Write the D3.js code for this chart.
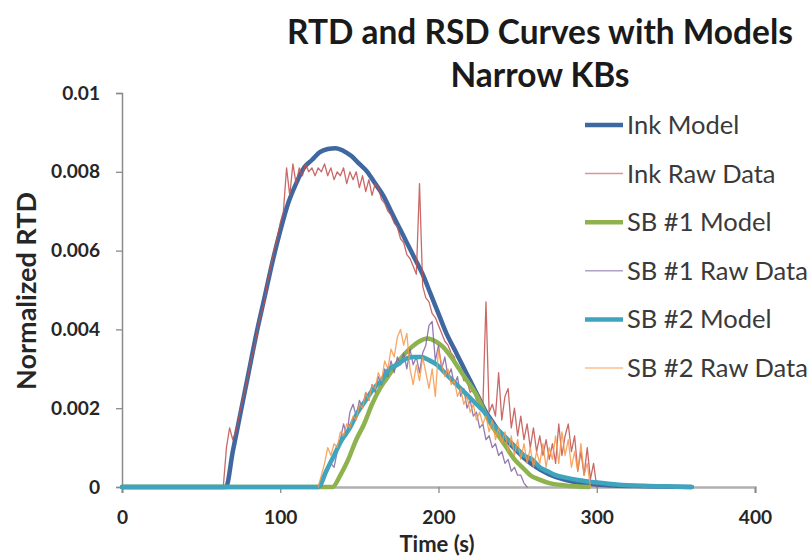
<!DOCTYPE html>
<html>
<head>
<meta charset="utf-8">
<script src="https://cdn.jsdelivr.net/npm/d3@7"></script>
<style>
  body { margin: 0; background: #fff; }
  svg { display: block; }
  text { font-family: Lato, "Open Sans", sans-serif; }
</style>
</head>
<body>
<svg id="chart" width="812" height="556"></svg>
<script>
// ---- chart text ----
const titleLines = ["RTD and RSD Curves with Models", "Narrow KBs"];
const xTitle = "Time (s)";
const yTitle = "Normalized RTD";
const xTicks = [0, 100, 200, 300, 400];
const yTicks = [0, 0.002, 0.004, 0.006, 0.008, 0.01];
const seriesNames = ["Ink Model", "Ink Raw Data", "SB #1 Model", "SB #1 Raw Data", "SB #2 Model", "SB #2 Raw Data"];

// ---- fitted model curves: [time (s), normalized RTD] ----
const inkModel = [
  [0, 0], [65.7, 0], [70, 0.0009], [75, 0.0019], [80, 0.0029], [85, 0.0039], [90, 0.0048],
  [95, 0.0057], [100, 0.0065], [105, 0.0072], [110, 0.0077], [115, 0.0081], [120, 0.0083],
  [125, 0.0085], [130, 0.00858], [135, 0.0086], [140, 0.00853], [145, 0.0084], [150, 0.0082],
  [155, 0.0080], [160, 0.0077], [165, 0.0074], [170, 0.0070], [175, 0.0066], [180, 0.0062],
  [185, 0.0058], [190, 0.0054], [195, 0.0049], [200, 0.0044], [205, 0.0039], [210, 0.0035],
  [215, 0.0031], [220, 0.0027], [225, 0.0023], [230, 0.0019], [235, 0.0016], [240, 0.0013],
  [245, 0.0011], [250, 0.0009], [255, 0.0007], [260, 0.00055], [270, 0.00032], [280, 0.00018],
  [290, 0.0001], [310, 0.00004], [330, 0.00002], [360, 0]
];
const sb1Model = [
  [0, 0], [133, 0], [138, 0.0003], [143, 0.0007], [148, 0.0012], [153, 0.0016], [158, 0.0021],
  [163, 0.0025], [168, 0.0028], [173, 0.0031], [178, 0.00335], [183, 0.00355], [188, 0.0037],
  [193, 0.00377], [198, 0.0037], [203, 0.00355], [208, 0.0033], [213, 0.0030], [218, 0.0027],
  [223, 0.0024], [228, 0.0020], [233, 0.0016], [238, 0.0013], [243, 0.0010], [248, 0.0007],
  [253, 0.0005], [258, 0.0003], [263, 0.0002], [270, 0.0001], [280, 0.00004], [295, 0]
];
const sb2Model = [
  [0, 0], [124, 0], [129, 0.0004], [134, 0.0008], [139, 0.0012], [144, 0.0015], [149, 0.0019],
  [154, 0.0022], [159, 0.0025], [164, 0.0027], [169, 0.0030], [174, 0.0031], [179, 0.00325],
  [184, 0.0033], [189, 0.0033], [194, 0.00322], [199, 0.0031], [204, 0.0029], [209, 0.0027],
  [214, 0.0025], [219, 0.0023], [224, 0.0021], [229, 0.0019], [234, 0.0016], [239, 0.0014],
  [244, 0.0012], [249, 0.0010], [254, 0.0008], [259, 0.0007], [264, 0.0005], [269, 0.0004],
  [274, 0.0003], [279, 0.00025], [289, 0.00017], [299, 0.00012], [314, 0.00006],
  [330, 0.00003], [360, 0]
];

// ---- raw measurements, sampled every rawStep seconds from each start time ----
const rawStep = 2;
const inkRawStart = 64;
const inkRaw = [
  0.0000, 0.0010, 0.0015, 0.0012, 0.0014, 0.0018, 0.0022, 0.0025, 0.0029, 0.0033,
  0.0036, 0.0041, 0.0044, 0.0047, 0.0052, 0.0056, 0.0060, 0.0063, 0.0067, 0.0070,
  0.0081, 0.0074, 0.0082, 0.0077, 0.0081, 0.0079, 0.0082, 0.0080, 0.0081, 0.0079,
  0.0081, 0.0080, 0.0082, 0.0079, 0.0081, 0.0078, 0.0080, 0.0079, 0.0081, 0.0077,
  0.0080, 0.0078, 0.0080, 0.0076, 0.0079, 0.0075, 0.0078, 0.0074, 0.0077, 0.0076,
  0.0073, 0.0072, 0.0070, 0.0069, 0.0067, 0.0066, 0.0063, 0.0062, 0.0059, 0.0058,
  0.0056, 0.0054, 0.0077, 0.0051, 0.0048, 0.0047, 0.0044, 0.0043, 0.0041, 0.0039,
  0.0037, 0.0036, 0.0034, 0.0033, 0.0030, 0.0030, 0.0027, 0.0027, 0.0024, 0.0025,
  0.0022, 0.0023, 0.0020, 0.0047, 0.0019, 0.0021, 0.0018, 0.0029, 0.0017, 0.0023,
  0.0025, 0.0015, 0.0020, 0.0013, 0.0018, 0.0012, 0.0016, 0.0010, 0.0015, 0.0009,
  0.0013, 0.0008, 0.0012, 0.0007, 0.0011, 0.0006, 0.0016, 0.0008, 0.0013, 0.0016,
  0.0009, 0.0013, 0.0004, 0.0009, 0.0003, 0.0010, 0.0002, 0.0006, 0.0000
];
const sb1RawStart = 126;
const sb1Raw = [
  0.0000, 0.0002, 0.0004, 0.0006, 0.0005, 0.0009, 0.0012, 0.0016, 0.0013, 0.0019,
  0.0021, 0.0018, 0.0022, 0.0020, 0.0024, 0.0022, 0.0026, 0.0024, 0.0028, 0.0026,
  0.0030, 0.0028, 0.0032, 0.0029, 0.0033, 0.0031, 0.0034, 0.0030, 0.0035, 0.0031,
  0.0033, 0.0029, 0.0034, 0.0036, 0.0041, 0.0042, 0.0032, 0.0036, 0.0030, 0.0033,
  0.0028, 0.0030, 0.0026, 0.0028, 0.0023, 0.0025, 0.0020, 0.0022, 0.0018, 0.0019,
  0.0015, 0.0016, 0.0012, 0.0013, 0.0010, 0.0011, 0.0008, 0.0009, 0.0006, 0.0007,
  0.0004, 0.0005, 0.0003, 0.0003, 0.0001, 0.0000
];
const sb2RawStart = 124;
const sb2Raw = [
  0.0000, 0.0003, 0.0006, 0.0010, 0.0008, 0.0011, 0.0010, 0.0014, 0.0013, 0.0016,
  0.0015, 0.0018, 0.0017, 0.0021, 0.0020, 0.0024, 0.0022, 0.0026, 0.0025, 0.0029,
  0.0027, 0.0032, 0.0030, 0.0035, 0.0033, 0.0038, 0.0040, 0.0036, 0.0039, 0.0030,
  0.0026, 0.0031, 0.0027, 0.0033, 0.0029, 0.0025, 0.0030, 0.0023, 0.0035, 0.0031,
  0.0028, 0.0030, 0.0026, 0.0027, 0.0023, 0.0025, 0.0021, 0.0023, 0.0019, 0.0021,
  0.0017, 0.0019, 0.0016, 0.0018, 0.0014, 0.0017, 0.0012, 0.0015, 0.0011, 0.0014,
  0.0009, 0.0013, 0.0008, 0.0012, 0.0007, 0.0011, 0.0006, 0.0010, 0.0005, 0.0009,
  0.0006, 0.0011, 0.0005, 0.0010, 0.0007, 0.0013, 0.0006, 0.0014, 0.0008, 0.0012,
  0.0005, 0.0009, 0.0004, 0.0011, 0.0003, 0.0006, 0.0000
];

// ---- series styling ----
const colors = ["#3F68A0", "#C0504D", "#8DB24E", "#8064A2", "#3FA4BD", "#F79646"];
const widths = [4.5, 1.3, 4.5, 1.3, 4.5, 1.3];

const toPoints = (start, vals) => vals.map((v, i) => [start + i * rawStep, v]);
const seriesData = [
  inkModel,
  toPoints(inkRawStart, inkRaw),
  sb1Model,
  toPoints(sb1RawStart, sb1Raw),
  sb2Model,
  toPoints(sb2RawStart, sb2Raw)
];
const isModel = [true, false, true, false, true, false];

const svg = d3.select("#chart");
svg.append("rect").attr("width", 812).attr("height", 556).attr("fill", "#fff");

const x = d3.scaleLinear().domain([0, 400]).range([122, 755]);
const y = d3.scaleLinear().domain([0, 0.01]).range([487, 93]);

// fit a text's font size so its rendered width equals target
function fitWidth(sel, target) {
  const node = sel.node();
  const base = parseFloat(sel.attr("font-size"));
  const w = node.getComputedTextLength();
  const size = base * target / w;
  sel.attr("font-size", size);
  return size;
}

// ---- axes ----
const axisColor = "#8A8A8A";
const labelColor = "#262626";

const yAxis = svg.append("g")
  .attr("transform", `translate(${x(0)},0)`)
  .call(d3.axisLeft(y).tickValues(yTicks).tickSize(6).tickPadding(16)
    .tickFormat(d => d === 0 ? "0" : d3.format("~g")(d)));
yAxis.select(".domain").attr("stroke", axisColor).attr("stroke-width", 1.5);
yAxis.selectAll(".tick line").attr("stroke", axisColor).attr("stroke-width", 1.3);
yAxis.selectAll(".tick text")
  .attr("fill", labelColor).attr("font-weight", "bold").attr("font-size", 18)
  .attr("font-family", "Lato, sans-serif");

const xAxis = svg.append("g")
  .attr("transform", `translate(0,${y(0)})`)
  .call(d3.axisBottom(x).tickValues(xTicks).tickSize(6).tickPadding(20)
    .tickFormat(d3.format("d")));
xAxis.select(".domain").attr("stroke", "#B0B0B0").attr("stroke-width", 2.5);
xAxis.selectAll(".tick line").attr("stroke", axisColor).attr("stroke-width", 1.3);
xAxis.selectAll(".tick text")
  .attr("fill", labelColor).attr("font-weight", "bold").attr("font-size", 18)
  .attr("font-family", "Lato, sans-serif");

// size tick labels from the widest one
const sample = yAxis.selectAll(".tick text").filter(d => d === 0.008);
const tickSize = fitWidth(sample, 49);
yAxis.selectAll(".tick text").attr("font-size", tickSize);
xAxis.selectAll(".tick text").attr("font-size", tickSize).attr("dy", "0.35em")
  .attr("y", 517 - y(0));

// ---- series lines ----
const line = d3.line().x(d => x(d[0])).y(d => y(d[1]));
const plot = svg.append("g");
seriesData.forEach((data, i) => {
  plot.append("path")
    .datum(data)
    .attr("fill", "none")
    .attr("stroke", colors[i])
    .attr("stroke-width", widths[i])
    .attr("stroke-opacity", isModel[i] ? 1 : 0.85)
    .attr("stroke-linejoin", "round")
    .attr("stroke-linecap", "round")
    .attr("d", line.curve(isModel[i] ? d3.curveMonotoneX : d3.curveLinear)(data));
});

// ---- titles ----
const t1 = svg.append("text").attr("x", 540).attr("y", 32).attr("dy", "0.35em")
  .attr("text-anchor", "middle").attr("font-weight", "bold").attr("font-size", 30)
  .attr("fill", "#1A1A1A").text(titleLines[0]);
const titleSize = fitWidth(t1, 506);
svg.append("text").attr("x", 540).attr("y", 75).attr("dy", "0.35em")
  .attr("text-anchor", "middle").attr("font-weight", "bold").attr("font-size", titleSize)
  .attr("fill", "#1A1A1A").text(titleLines[1]);

svg.append("text").attr("x", 437).attr("y", 544).attr("dy", "0.35em")
  .attr("text-anchor", "middle").attr("font-weight", "bold").attr("font-size", 22)
  .attr("fill", labelColor).text(xTitle);

const yt = svg.append("text")
  .attr("transform", "translate(27,291) rotate(-90)")
  .attr("dy", "0.35em")
  .attr("text-anchor", "middle").attr("font-weight", "bold").attr("font-size", 20)
  .attr("fill", labelColor).text(yTitle);
fitWidth(yt, 198);

// ---- legend ----
const legend = svg.append("g");
const rowY = i => 125 + i * 48.6;
seriesNames.forEach((name, i) => {
  legend.append("line")
    .attr("x1", 585).attr("x2", 623).attr("y1", rowY(i)).attr("y2", rowY(i))
    .attr("stroke", colors[i]).attr("stroke-width", isModel[i] ? 4.5 : 1.5)
    .attr("stroke-opacity", isModel[i] ? 1 : 0.6);
  legend.append("text")
    .attr("class", "leg")
    .attr("x", 627).attr("y", rowY(i)).attr("dy", "0.35em")
    .attr("font-size", 22).attr("fill", "#3A3A3A").text(name);
});
const legSize = fitWidth(legend.selectAll("text.leg").filter((d, i) => i === 3), 181);
legend.selectAll("text.leg").attr("font-size", legSize);
</script>
</body>
</html>
